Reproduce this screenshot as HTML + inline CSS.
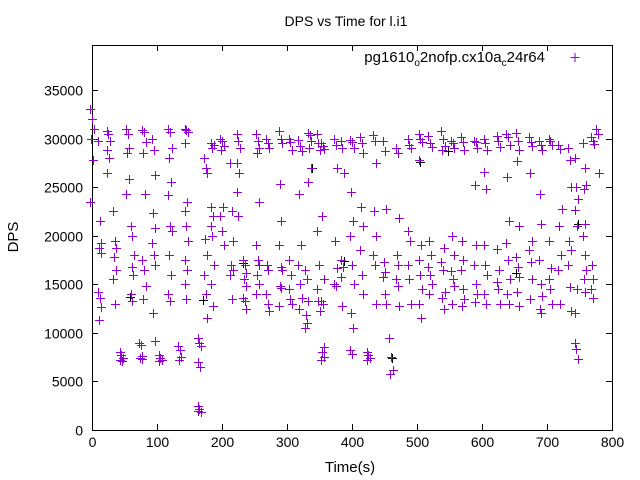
<!DOCTYPE html>
<html><head><meta charset="utf-8"><style>
body{margin:0;background:#fff}
svg{display:block;font-family:"Liberation Sans",sans-serif}
</style></head><body>
<svg id="chart" width="640" height="480" viewBox="0 0 640 480" xmlns="http://www.w3.org/2000/svg">
<text x="346" y="26" font-size="14" text-anchor="middle">DPS vs Time for l.i1</text>
<g id="axes"></g>
<g id="marks-black"></g>
<g id="marks"></g>
<text transform="translate(18,237) rotate(-90)" font-size="15" text-anchor="middle">DPS</text>
<text x="350" y="472" font-size="15" text-anchor="middle">Time(s)</text>
<g>
<text x="545" y="62" font-size="15" text-anchor="end">pg1610<tspan font-size="10" dy="4">o</tspan><tspan dy="-4">2nofp.cx10a</tspan><tspan font-size="10" dy="4">c</tspan><tspan dy="-4">24r64</tspan></text>
<path d="M570.5 57.5h9M575 53v9" stroke="#9400d3" stroke-width="1"/>
</g>
</svg>
<script>
const xTicks=[0,100,200,300,400,500,600,700,800];
const yTicks=[0,5000,10000,15000,20000,25000,30000,35000];
const clusterTimes=[0,12,25,35,45,55,62,75,80,95,105,120,135,145,165,175,185,200,215,225,235,255,270,290,305,320,330,335,348,355,375,385,400,415,425,435,450,460,470,488,505,520,540,555,570,590,605,625,640,655,675,690,705,720,735,745,758,770,778];
const clusterValues=[
[33000,32000,31000,30000,27800,23500],
[29800,21500,19300,18700,18200,14200,13600,12700,11300],
[30800,30500,29800,28800,28000,26500],
[22500,19500,18700,17800,16500,15500,13000],
[8000,7700,7400,7200,7100],
[31000,30500,29000,28500,25800,24300],
[21000,20000,18000,16800,16000,14000,13300],
[9000,8800,7600,7400,7300],
[30900,30700,29600,28500,24300,17500,16500,14800,13500],
[30000,28800,26300,22300,20800,19200,18000,17000,12000,9200],
[7700,7400,7200,7100],
[31000,30700,29000,28000,25500,24200,21000,20500,18000,16000,14000,13300],
[8600,8200,7500,7200],
[31000,30900,30700,29500,23500,22500,21000,19500,17500,16500,15000,13500],
[9500,9000,8600,7000,6500,2500,2200,1900,2000],
[28000,27000,26500,19700,18000,16000,14000,11500],
[29500,29000,29300,23000,22000,21000,20000,17000,15000,12800],
[30000,29800,29200,28800,23000,22000,20500,19000],
[27500,22500,19500,17000,16500,16000,13500],
[30500,29800,29000,27500,26500,24500,22000],
[17500,17000,16200,15500,14800,13600,13300,12500],
[30500,29800,29000,28500,23500,19000,17500,17000,16000,15000,14000],
[30000,29500,29000,17000,16500,14000,13000,12300],
[30800,30000,29500,25300,21500,19000,16800,16500,14800,14600,12800],
[30000,29600,28800,17500,16000,14500,13500,13000],
[29900,29200,28700,24300,19000,17000,15000,13600,12500],
[16500,15500,13300,11800,11000,10500],
[30600,30400,29800,29000,27000,25500],
[30500,29500,28800,20500,17000,14500,13300,12300],
[29500,29200,28900,22000,15500,13300,13000,8500,8000,7500,7200],
[30000,29300,27000,19500,16700,15000,14800],
[29800,29000,26500,17500,16800,15800,12800],
[29900,29600,29000,24500,21500,20000,17000,15000,12000,10500,8200,7800],
[30200,29500,28500,23000,21000,18500,16000,14000],
[8000,7700,7400,7200],
[30400,29800,27500,22500,20000,18000,17000,13000],
[29800,28700,22800,17300,16300,15700,14000,13000],
[9500,7500,6200,5800],
[29000,28500,21800,18000,17000,15500,14800,12800],
[30000,29300,29000,20500,19500,17000,15500,13000],
[30500,30000,29600,27800,19000,17500,16000,14500,13000,11500],
[30300,29500,29100,19500,18000,16800,16000,15000,14000],
[30800,30000,29200,28800,18700,17300,16500,14200,13600,12500],
[29800,29500,29000,20000,18000,16400,15500,14800,13000],
[30200,29600,28800,19500,17500,16500,14500,13500,12800],
[29800,29600,29000,25200,19000,17000,15000,14000,13200],
[30000,29500,28800,26600,24800,19000,17000,16000,14000,13000],
[30300,29700,29100,18600,16500,15200,14500,13000],
[30500,30200,29300,26000,21500,19300,17500,15500,14000,13000],
[30600,29700,28800,27700,21000,17800,16800,15700,14200,12800],
[30200,29600,29200,26500,19500,18500,17300,15500,13500],
[29800,29300,28800,24300,21200,17500,15000,13800,12500,12000],
[30000,29700,29300,19500,16700,15500,14500,13000],
[29300,28900,22700,21000,18000,16500,13000],
[29000,27800,25000,19500,18500,17000,14700,12300],
[28000,25000,23800,22600,21000,9000,8300,7300,12000,14500],
[29500,27000,25200,24800,21200,20000,18000,16500,15500,14200],
[30200,29700,29400,17000,15500,14500,13600],
[31000,30500,26500]
];
const blackTimes=[58,170,232,338,388,462,505,548,652,748];
const blackValues=[13700,13400,17200,27000,17400,7400,27600,28700,16200,21200];

const L=92,R=612,T=45,B=430;
const xs=t=>L+t*(R-L)/800;
const ys=v=>B-v*(B-90)/35000;
const NS='http://www.w3.org/2000/svg';
const axes=document.getElementById('axes');
function mk(tag,attrs,parent){const e=document.createElementNS(NS,tag);for(const k in attrs)e.setAttribute(k,attrs[k]);parent.appendChild(e);return e;}
const frame=mk('rect',{x:L+0.5,y:T+0.5,width:R-L,height:B-T,fill:'none',stroke:'#000','stroke-width':1},axes);


xTicks.forEach(t=>{
  const x=Math.round(xs(t))+0.5;
  const tk=mk('path',{d:`M${x} ${B}v-6M${x} ${T}v6`,stroke:'#000'},axes);
  
  
  const lb=mk('text',{x:x,y:B+17,'font-size':14,'text-anchor':'middle'},axes);
  
  
  lb.textContent=t;
});
yTicks.forEach(v=>{
  const y=Math.round(ys(v))+0.5;
  const tk=mk('path',{d:`M${L} ${y}h6M${R} ${y}h-6`,stroke:'#000'},axes);
  
  
  const lb=mk('text',{x:L-9,y:y+5,'font-size':14,'text-anchor':'end'},axes);
  
  
  lb.textContent=v;
});
function plus(g,t,v,color){
  const x=Math.round(xs(t))+0.5,y=Math.round(ys(v))+0.5;
  const p=mk('path',{d:`M${x-4.5} ${y}h9M${x} ${y-4.5}v9`,stroke:color,'stroke-width':1},g);
  
  
}
const gb=document.getElementById('marks-black');
blackTimes.forEach((t,i)=>plus(gb,t,blackValues[i],'#000'));
const g=document.getElementById('marks');
clusterTimes.forEach((t,i)=>{
  clusterValues[i].forEach((v,j)=>{
    const dt=((j*7)%5-2)*1.2;
    plus(g,t+dt,v,'#9400d3');
  });
});
</script>
</body></html>
